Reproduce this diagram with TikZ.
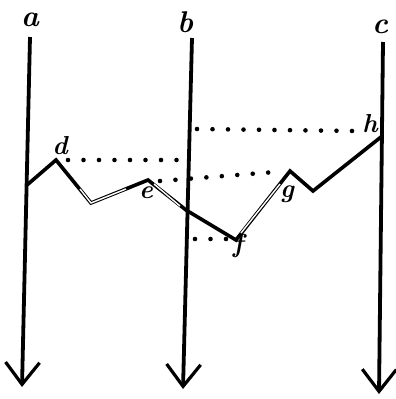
\documentclass[tikz,border=0pt]{standalone}
\usetikzlibrary{arrows.meta}
\begin{document}
\begin{tikzpicture}[x=1pt,y=-1pt,
  axis/.style={line width=3.8pt,-{Straight Barb[length=22pt,width=34pt,line width=3.2pt]}},
  zig/.style={line width=3.6pt,line join=miter},
  hollow/.style={white,line width=1.4pt},
  dots/.style={line width=4.6pt,line cap=round,dash pattern=on 0pt off 15.5pt},
  lbl/.style={inner sep=0pt,font=\fontsize{30}{30}\selectfont\bfseries\itshape},
  slbl/.style={inner sep=0pt,font=\fontsize{26}{26}\selectfont\bfseries\itshape}]
\useasboundingbox (0,0) rectangle (396,399);
\coordinate (at) at (30,37);  \coordinate (ab) at (22,387);
\coordinate (bt) at (192,38); \coordinate (bb) at (183,389);
\coordinate (ct) at (383,42); \coordinate (cb) at (379,394);
\draw[axis] (at) -- (ab);
\draw[axis] (bt) -- (bb);
\draw[axis] (ct) -- (cb);
\coordinate (z0) at (27,185);
\coordinate (pd) at (56,160);
\coordinate (z1) at (91,203);
\coordinate (pe) at (148,180);
\coordinate (z2) at (186,210);
\coordinate (pf) at (236,240);
\coordinate (pg) at (290,171);
\coordinate (z3) at (313,191);
\coordinate (ph) at (381,137);
\draw[zig] (z0) -- (pd) -- (z1) -- (pe) -- (z2) -- (pf) -- (pg) -- (z3) -- (ph);
\coordinate (w1) at (80,189); \coordinate (w2) at (126,189);
\coordinate (w3) at (154,184); \coordinate (w4) at (180,206);
\coordinate (w5) at (241,233); \coordinate (w6) at (280,184);
\draw[hollow] (w1) -- (z1) -- (w2);
\draw[hollow] (w3) -- (w4);
\draw[hollow] (w5) -- (w6);
\coordinate (t1a) at (197,129); \coordinate (t1b) at (356,131);
\coordinate (t2a) at (68,160);  \coordinate (t2b) at (182,160);
\coordinate (t3a) at (160,181); \coordinate (t3b) at (275,172);
\coordinate (t4a) at (195,239); \coordinate (t4b) at (226,239);
\draw[dots] (t1a) -- (t1b);
\draw[dots] (t2a) -- (t2b);
\draw[dots] (t3a) -- (t3b);
\draw[dots] (t4a) -- (t4b);
\node[lbl] (la) at (30,20) {a};
\node[lbl] (lb) at (185,22) {b};
\node[lbl] (lc) at (380,27) {c};
\node[slbl] (ld) at (60,146) {d};
\node[slbl] (le) at (146,193) {e};
\node[slbl] (lf) at (238,246) {f};
\node[slbl] (lg) at (287,194) {g};
\node[slbl] (lh) at (370,124) {h};
\end{tikzpicture}
\end{document}
